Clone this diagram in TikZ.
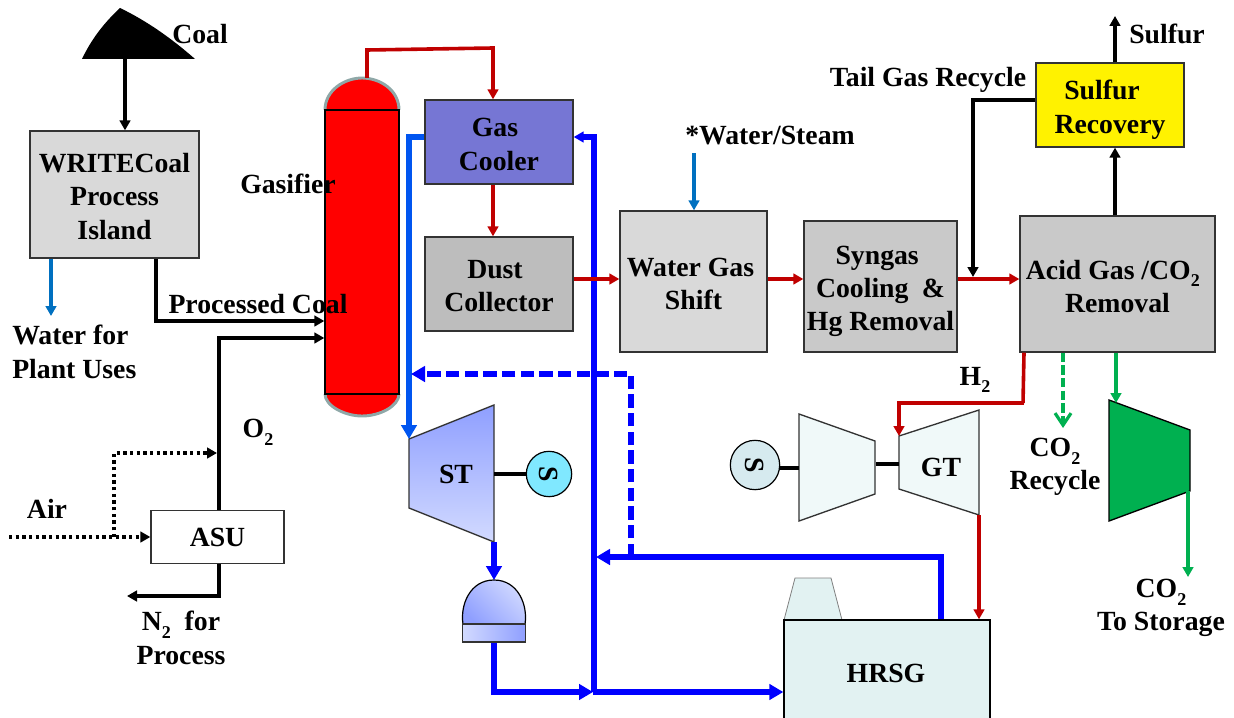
\documentclass[tikz,border=0pt]{standalone}
\usepackage{fontspec}
\setmainfont{Liberation Serif}
\usetikzlibrary{arrows.meta}
\definecolor{cRed}{HTML}{C00000}
\definecolor{cBlue}{HTML}{0000FF}
\definecolor{cLBlue}{HTML}{0055F0}
\definecolor{cWater}{HTML}{0070C0}
\definecolor{cGreen}{HTML}{00B050}
\definecolor{cDome}{HTML}{8FA8A8}
\definecolor{gA}{HTML}{8F9FFF}
\definecolor{gB}{HTML}{D2DAFF}
\definecolor{cHrsg}{HTML}{E2F2F2}
\definecolor{cTurb}{HTML}{F0F9F9}
\definecolor{cCool}{HTML}{7676D4}
\definecolor{cS1}{HTML}{80E8FF}
\definecolor{cS2}{HTML}{D6EAEF}
\newcommand{\lowtwo}{\raisebox{-0.28em}{\fontsize{13.5}{13.5}\selectfont 2}}
\newcommand{\tp}[1]{\rule{0pt}{#1}}
\tikzset{
  sz/.style 2 args={minimum width=#1*.75pt,minimum height=#2*.75pt},
  txt/.style={font=\fontsize{20.8}{25}\selectfont\bfseries,align=center,text=black,inner sep=0pt},
  box/.style={txt,draw=black!80,line width=1pt,rectangle},
  tipS/.style={-{Triangle[length=7.5pt,width=8pt]}},
  tipL/.style={-{Triangle[length=10.5pt,width=11.5pt]}},
  blk/.style={draw=black,line width=2.7pt,line join=miter,tipS},
  red/.style={draw=cRed,line width=2.7pt,tipS},
  blu/.style={draw=cBlue,line width=4.2pt,tipL},
  lblu/.style={draw=cLBlue,line width=4.2pt,tipL},
  wat/.style={draw=cWater,line width=2.4pt,tipS},
  grn/.style={draw=cGreen,line width=2.4pt,tipS},
  dotl/.style={draw=black,line width=2.6pt,dash pattern=on 2.6pt off 2.4pt,tipS},
  shaft/.style={draw=black,line width=3.2pt},
  turb/.style={draw=black!80,line width=1pt,fill=#1},
}
\begin{document}
\begin{tikzpicture}[x=.75pt,y=-.75pt]
\useasboundingbox (0,0) rectangle (1234,717);
\clip (0,0) rectangle (1234,717);

% coordinates of drawn shapes
\coordinate (hop) at (125,59);
\coordinate (domeTop) at (367,78);
\coordinate (stTL) at (409,439);
\coordinate (stTR) at (494,405);
\coordinate (stBR) at (494,542);
\coordinate (stBL) at (409,508);
\coordinate (stE) at (494,474);
\coordinate (cdTop) at (494,580);
\coordinate (gtTL) at (899,436);
\coordinate (gtTR) at (979,410);
\coordinate (gtBR) at (979,515);
\coordinate (gtBL) at (899,489);
\coordinate (gtW) at (899,464);
\coordinate (cpTL) at (799,414);
\coordinate (cpTR) at (875,441);
\coordinate (cpBR) at (875,494);
\coordinate (cpBL) at (799,521);
\coordinate (cpE) at (876,464);
\coordinate (cpW) at (799,468);
\coordinate (gcTL) at (1109,400);
\coordinate (gcTR) at (1190,430);
\coordinate (gcBR) at (1190,491);
\coordinate (gcBL) at (1109,521);

% coal hopper
\fill[black] (82,59) .. controls (92,38) and (105,22) .. (120,8) .. controls (145,20) and (170,37) .. (195,59) -- cycle;

% gasifier domes
\draw[draw=cDome,line width=2.2pt,fill=red] (325,110) .. controls (325,90) and (345,78) .. (362,78) .. controls (380,78) and (399,90) .. (399,110);
\draw[draw=cDome,line width=2.2pt,fill=red] (325,394) .. controls (325,406) and (345,416) .. (362,416) .. controls (380,416) and (399,406) .. (399,394);

% stack + boxes
\draw[draw=black!50,line width=.6pt,fill=cHrsg] (784,620) -- (795,578) -- (831,578) -- (842,620) -- cycle;
\node[box,sz={169}{127},fill=black!15] (write) at (114.5,194.5) {\tp{17pt}WRITECoal\\Process\\Island};
\node[box,sz={74}{284},fill=red,draw=black] (gas) at (362,252) {};
\node[box,sz={148}{84},fill=cCool] (cooler) at (499,142) {\tp{17.5pt}Gas\kern6pt\\Cooler};
\node[box,sz={148}{94},fill=black!26] (dust) at (499,284) {\tp{17pt}Dust\kern6pt\\Collector};
\node[box,sz={147}{141},fill=black!15] (wgs) at (693.5,281.5) {\tp{17pt}Water Gas\kern4.5pt\\Shift};
\node[box,sz={153}{131},fill=black!21] (syn) at (880.5,286.5) {\tp{21pt}Syngas\kern5pt\\Cooling\kern10pt\&\\Hg Removal};
\node[box,sz={195}{136},fill=black!21] (acid) at (1117.5,284) {\tp{18pt}\kern-7pt Acid Gas /CO\lowtwo\\Removal};
\node[box,sz={148}{84},fill=yellow] (sulf) at (1110,105) {\tp{21.5pt}Sulfur\kern12pt\\Recovery};
\node[box,sz={133}{53},fill=white] (asu) at (217.5,537) {ASU};
\node[box,sz={206}{125},fill=cHrsg,draw=black] (hrsg) at (887,682.5) {};

% turbines
\shadedraw[draw=black!80,line width=1pt,top color=gA,bottom color=gB] (stTL) -- (stTR) -- (stBR) -- (stBL) -- cycle;
\filldraw[turb=cTurb] (gtTL) -- (gtTR) -- (gtBR) -- (gtBL) -- cycle;
\filldraw[turb=cTurb] (cpTL) -- (cpTR) -- (cpBR) -- (cpBL) -- cycle;
\filldraw[turb=cGreen,draw=black] (gcTL) -- (gcTR) -- (gcBR) -- (gcBL) -- cycle;

% condenser
\shadedraw[draw=black,line width=.9pt,left color=gB,right color=gA,shading angle=-45] (463,624) .. controls (460,605) and (470,580) .. (cdTop) .. controls (518,580) and (528,605) .. (525,624) -- cycle;
\node[draw=black!80,line width=.9pt,sz={63}{18},left color=gB,right color=gA,inner sep=0pt] (cdBase) at (494,633) {};

% generators
\node[txt,circle,draw=black,line width=.9pt,fill=cS1,minimum size=34pt,rotate=-90] (sgen1) at (549,474) {S};
\node[txt,circle,draw=black,line width=.9pt,fill=cS2,minimum size=37pt,rotate=-90] (sgen2) at (755,465) {S};
\draw[shaft] (stE) -- (sgen1);
\draw[shaft] (sgen2.north |- cpW) -- (cpW);
\draw[shaft] (cpE) -- (gtW);

% black lines
\draw[blk,line width=3pt] (hop) -- (hop |- write.north);
\draw[blk] (156,0 |- write.south) -- (156,321) -- (gas.west |- 0,321);
\draw[blk] (219,0 |- asu.north) -- (219,338) -- (gas.west |- 0,338);
\draw[blk] (219,0 |- asu.south) -- (219,596) -- (127,596);
\draw[blk] (sulf.west |- 0,100) -- (973,100) -- (973,277);
\draw[blk] (1115,0 |- acid.north) -- (1115,0 |- sulf.south);
\draw[blk] (1115,0 |- sulf.north) -- (1115,16);

% dotted air
\draw[dotl] (9,537) -- (asu.west |- 0,537);
\draw[dotl] (114,537) -- (114,453) -- (217,453);

% water
\draw[wat] (51,0 |- write.south) -- (51,316);
\draw[wat] (694,153) -- (694,0 |- wgs.north);

% blue lines
\draw[lblu] (cooler.west |- 0,137) -- (409,137) -- (stTL);
\draw[blu,tipS] (594,692) -- (594,137) -- (cooler.east |- 0,137);
\draw[blu] (stBR) -- (cdTop);
\draw[blu] (494,0 |- cdBase.south) -- (494,692) -- (593,692);
\draw[blu] (593,692) -- (hrsg.west |- 0,692);
\draw[blu] (941,0 |- hrsg.north) -- (941,557) -- (596,557);
\draw[blu,dash pattern=on 10pt off 4pt] (631,557) -- (631,374) -- (411,374);

% red lines
\draw[red] (domeTop) -- (367,50) -- (493,48) -- (493,0 |- cooler.north);
\draw[red] (493,0 |- cooler.south) -- (493,0 |- dust.north);
\draw[red] (dust.east |- 0,279) -- (wgs.west |- 0,279);
\draw[red] (wgs.east |- 0,279) -- (syn.west |- 0,279);
\draw[red] (syn.east |- 0,279) -- (acid.west |- 0,279);
\draw[red,-] (1024,0 |- acid.south) -- (1023,403);
\draw[red] (1024,403) -- (899,403) -- (gtTL);
\draw[red] (gtBR) -- (979,0 |- hrsg.north);

% green lines
\draw[grn,dash pattern=on 7pt off 2.5pt,-{Straight Barb[length=9pt,width=12pt]}] (1063,0 |- acid.south) -- (1063,428);
\draw[grn] (1116,0 |- acid.south) -- (1116,403);
\draw[grn] (1188,491) -- (1188,577);

% labels
\node[txt] (lCoal) at (200,34) {Coal};
\node[txt] (lGasifier) at (288,184) {Gasifier};
\node[txt] (lProc) at (258,304) {Processed Coal};
\node[txt,align=left,anchor=west] (lWater) at (12,352) {Water for\\Plant Uses};
\node[txt] (lO2) at (258,432) {O\lowtwo};
\node[txt] (lAir) at (47,509) {Air};
\node[txt] (lN2) at (181,638) {N\lowtwo\ \ for\\Process};
\node[txt] (lST) at (456,474) {ST};
\node[txt] (lGT) at (941,467) {GT};
\node[txt] (lHRSG) at (886,673) {HRSG};
\node[txt] (lH2) at (975,380) {H\lowtwo};
\node[txt] (lRec) at (1055,467) {CO\lowtwo\\Recycle};
\node[txt] (lSto) at (1161,608) {CO\lowtwo\\To Storage};
\node[txt] (lSul) at (1167,34) {Sulfur};
\node[txt] (lTail) at (928,80) {Tail Gas Recycle};
\node[txt] (lSteam) at (770,136) {*Water/Steam};
\end{tikzpicture}
\end{document}
